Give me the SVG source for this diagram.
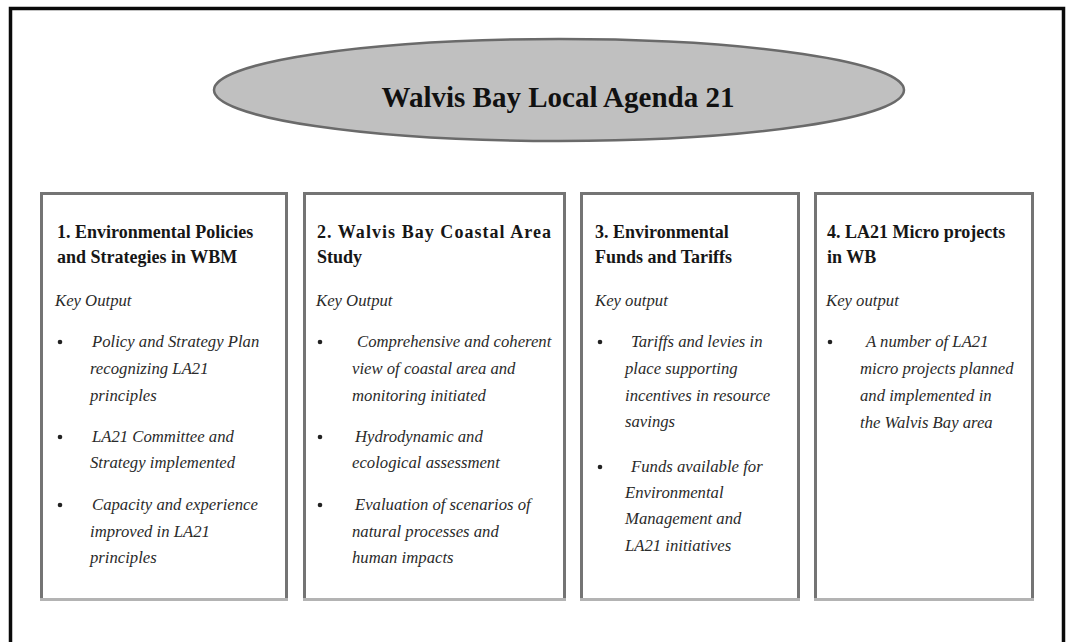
<svg xmlns="http://www.w3.org/2000/svg" width="1069" height="642" viewBox="0 0 1069 642">
<style>
.frame{fill:none;stroke:#0a0a0a;stroke-width:3.5}
.box{fill:#fff;stroke:#747474;stroke-width:3}
.boxb{stroke:#b3b3b3;stroke-width:3}
.ell{fill:#c0c0c0;stroke:#6a6a6a;stroke-width:2.5}
.main{font-family:"Liberation Serif",serif;font-weight:bold;font-size:29px;fill:#111}
.tt{font-family:"Liberation Serif",serif;font-weight:bold;font-size:18px;fill:#161616}
.it{font-family:"Liberation Serif",serif;font-style:italic;font-size:16.7px;fill:#2a2a2a}
.bul{fill:#222}
</style>
<rect width="1069" height="642" fill="#fff"/>
<path class="frame" d="M10.5,642 V8.5 H1063.5 V642"/>
<g id="main">
<ellipse class="ell" cx="559" cy="90" rx="345" ry="51"/>
<text class="main" x="558" y="107" text-anchor="middle">Walvis Bay Local Agenda 21</text>
</g>
<g id="connectors"></g>
<g id="box1">
<rect class="box" x="41.5" y="193.5" width="245" height="406"/>
<line class="boxb" x1="40" y1="599.5" x2="288" y2="599.5"/>
<text class="tt" x="57" y="238">1. Environmental Policies</text>
<text class="tt" x="57" y="263">and Strategies in WBM</text>
<text class="it" x="55" y="306">Key Output</text>
<circle class="bul" cx="60" cy="342" r="2.3"/>
<text class="it" x="92" y="347">Policy and Strategy Plan</text>
<text class="it" x="90" y="374">recognizing LA21</text>
<text class="it" x="90" y="401">principles</text>
<circle class="bul" cx="60" cy="437" r="2.3"/>
<text class="it" x="92" y="442">LA21 Committee and</text>
<text class="it" x="90" y="468">Strategy implemented</text>
<circle class="bul" cx="60" cy="505" r="2.3"/>
<text class="it" x="92" y="510">Capacity and experience</text>
<text class="it" x="90" y="537">improved in LA21</text>
<text class="it" x="90" y="563">principles</text>
</g>
<g id="box2">
<rect class="box" x="304.5" y="193.5" width="260" height="406"/>
<line class="boxb" x1="303" y1="599.5" x2="566" y2="599.5"/>
<text class="tt" x="317" y="238" textLength="234" lengthAdjust="spacing">2. Walvis Bay Coastal Area</text>
<text class="tt" x="317" y="263">Study</text>
<text class="it" x="316" y="306">Key Output</text>
<circle class="bul" cx="320" cy="342" r="2.3"/>
<text class="it" x="357" y="347">Comprehensive and coherent</text>
<text class="it" x="352" y="374">view of coastal area and</text>
<text class="it" x="352" y="401">monitoring initiated</text>
<circle class="bul" cx="320" cy="437" r="2.3"/>
<text class="it" x="355" y="442">Hydrodynamic and</text>
<text class="it" x="352" y="468">ecological assessment</text>
<circle class="bul" cx="320" cy="505" r="2.3"/>
<text class="it" x="355" y="510">Evaluation of scenarios  of</text>
<text class="it" x="352" y="537">natural processes and</text>
<text class="it" x="352" y="563">human impacts</text>
</g>
<g id="box3">
<rect class="box" x="581.5" y="193.5" width="217" height="406"/>
<line class="boxb" x1="580" y1="599.5" x2="800" y2="599.5"/>
<text class="tt" x="595" y="238">3. Environmental</text>
<text class="tt" x="595" y="263">Funds and Tariffs</text>
<text class="it" x="595" y="306">Key output</text>
<circle class="bul" cx="600" cy="342" r="2.3"/>
<text class="it" x="631" y="347">Tariffs and levies in</text>
<text class="it" x="625" y="374">place supporting</text>
<text class="it" x="625" y="401">incentives in resource</text>
<text class="it" x="625" y="427">savings</text>
<circle class="bul" cx="600" cy="467" r="2.3"/>
<text class="it" x="631" y="472">Funds available for</text>
<text class="it" x="625" y="498">Environmental</text>
<text class="it" x="625" y="524">Management and</text>
<text class="it" x="625" y="551">LA21 initiatives</text>
</g>
<g id="box4">
<rect class="box" x="815.5" y="193.5" width="217" height="406"/>
<line class="boxb" x1="814" y1="599.5" x2="1034" y2="599.5"/>
<text class="tt" x="827" y="238">4. LA21 Micro projects</text>
<text class="tt" x="827" y="263">in WB</text>
<text class="it" x="826" y="306">Key output</text>
<circle class="bul" cx="830" cy="342" r="2.3"/>
<text class="it" x="866" y="347">A number of LA21</text>
<text class="it" x="860" y="374">micro projects planned</text>
<text class="it" x="860" y="401">and implemented in</text>
<text class="it" x="860" y="428">the Walvis Bay area</text>
</g>
</svg>
